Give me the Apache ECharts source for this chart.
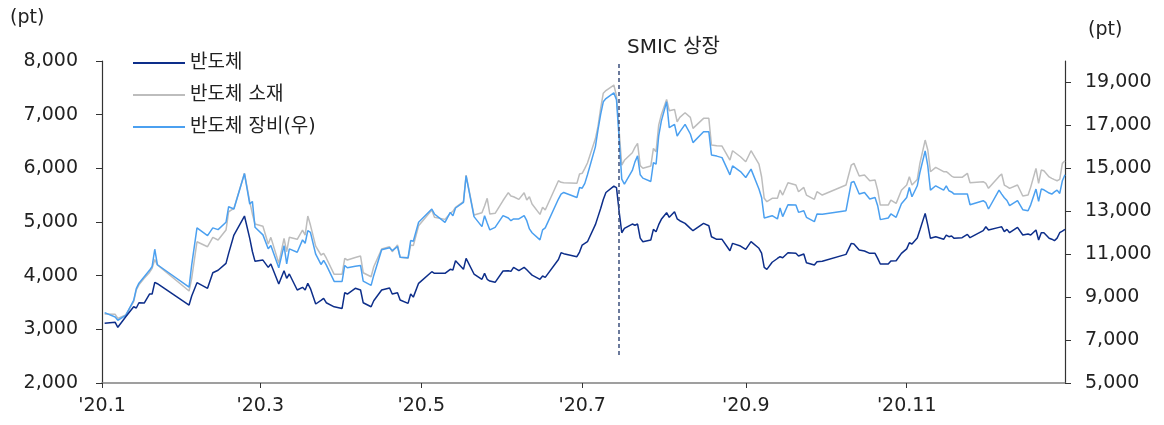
<!DOCTYPE html>
<html>
<head>
<meta charset="utf-8">
<script src="https://cdn.jsdelivr.net/npm/echarts@6/dist/echarts.min.js"></script>
<style>
  html, body { margin: 0; padding: 0; background: #fff; }
  #chart { width: 1164px; height: 425px; }
</style>
</head>
<body>
<div id="chart"></div>
<script>
// 거래일 (읽어낸 지점)
const dates = [
  '2020-01-02','2020-01-06','2020-01-07','2020-01-10','2020-01-13','2020-01-14','2020-01-15','2020-01-17','2020-01-19','2020-01-20',
  '2020-01-21','2020-01-22','2020-02-03','2020-02-04','2020-02-06','2020-02-10','2020-02-12','2020-02-14','2020-02-17','2020-02-18',
  '2020-02-20','2020-02-24','2020-02-26','2020-02-27','2020-02-28','2020-03-02','2020-03-04','2020-03-05','2020-03-08','2020-03-10',
  '2020-03-11','2020-03-12','2020-03-15','2020-03-17','2020-03-18','2020-03-19','2020-03-20','2020-03-22','2020-03-24','2020-03-25',
  '2020-03-26','2020-03-29','2020-04-01','2020-04-02','2020-04-03','2020-04-06','2020-04-08','2020-04-09','2020-04-12','2020-04-13',
  '2020-04-16','2020-04-19','2020-04-20','2020-04-22','2020-04-23','2020-04-26','2020-04-27','2020-04-28','2020-04-30','2020-05-05',
  '2020-05-06','2020-05-10','2020-05-12','2020-05-13','2020-05-14','2020-05-17','2020-05-18','2020-05-21','2020-05-24','2020-05-25',
  '2020-05-26','2020-05-27','2020-05-29','2020-06-01','2020-06-03','2020-06-04','2020-06-05','2020-06-07','2020-06-09','2020-06-10',
  '2020-06-11','2020-06-12','2020-06-15','2020-06-16','2020-06-17','2020-06-22','2020-06-23','2020-06-24','2020-06-29','2020-06-30',
  '2020-07-01','2020-07-02','2020-07-03','2020-07-06','2020-07-07','2020-07-08','2020-07-09','2020-07-10','2020-07-13','2020-07-14',
  '2020-07-15','2020-07-16','2020-07-17','2020-07-20','2020-07-21','2020-07-22','2020-07-23','2020-07-24','2020-07-27','2020-07-28',
  '2020-07-29','2020-07-30','2020-07-31','2020-08-02','2020-08-03','2020-08-05','2020-08-06','2020-08-07','2020-08-09','2020-08-11',
  '2020-08-12','2020-08-16','2020-08-18','2020-08-19','2020-08-21','2020-08-23','2020-08-26','2020-08-27','2020-08-30','2020-09-01',
  '2020-09-03','2020-09-06','2020-09-07','2020-09-08','2020-09-09','2020-09-11','2020-09-13','2020-09-14','2020-09-15','2020-09-17',
  '2020-09-20','2020-09-21','2020-09-23','2020-09-24','2020-09-27','2020-09-28','2020-09-30','2020-10-09','2020-10-11','2020-10-12',
  '2020-10-14','2020-10-16','2020-10-18','2020-10-20','2020-10-21','2020-10-22','2020-10-25','2020-10-26','2020-10-28','2020-10-30',
  '2020-11-01','2020-11-02','2020-11-03','2020-11-05','2020-11-06','2020-11-08','2020-11-09','2020-11-10','2020-11-12','2020-11-15',
  '2020-11-16','2020-11-17','2020-11-18','2020-11-19','2020-11-22','2020-11-24','2020-11-25','2020-11-30','2020-12-01','2020-12-02',
  '2020-12-06','2020-12-07','2020-12-08','2020-12-09','2020-12-10','2020-12-13','2020-12-15','2020-12-17','2020-12-18','2020-12-20',
  '2020-12-21','2020-12-22','2020-12-23','2020-12-25','2020-12-26','2020-12-27','2020-12-28','2020-12-29','2020-12-30','2020-12-31'
];

// 반도체 (좌)
const semi = [
  3112,3131,3038,3235,3421,3397,3496,3490,3658,3658,
  3876,3850,3453,3621,3869,3764,4055,4100,4230,4416,
  4757,5111,4696,4450,4267,4290,4155,4217,3844,4092,
  3950,4031,3733,3783,3733,3857,3760,3472,3540,3578,
  3496,3420,3390,3683,3658,3764,3733,3496,3421,3533,
  3733,3770,3658,3683,3546,3484,3658,3600,3857,4074,
  4043,4043,4118,4105,4278,4118,4323,4031,3932,4043,
  3932,3900,3876,4087,4092,4080,4155,4092,4155,4110,
  4060,4010,3932,3993,3969,4300,4428,4410,4353,4440,
  4571,4602,4633,4950,5100,5250,5420,5550,5670,5640,
  5200,4800,4880,4962,4940,4962,4700,4633,4664,4863,
  4819,4950,5050,5173,5087,5191,5060,5024,4975,4882,
  4838,4975,4931,4726,4677,4677,4465,4602,4552,4491,
  4633,4510,4420,4155,4118,4250,4320,4353,4335,4428,
  4416,4366,4403,4242,4198,4260,4270,4397,4602,4590,
  4478,4460,4416,4416,4323,4217,4217,4273,4279,4416,
  4500,4614,4590,4700,4850,5161,4943,4696,4726,4677,
  4757,4726,4739,4696,4708,4770,4708,4838,4912,4850,
  4900,4910,4820,4863,4800,4900,4757,4776,4757,4850,
  4664,4800,4800,4696,4680,4652,4700,4800,4830,4863
];

// 반도체 소재 (좌)
const material = [
  3285,3280,3205,3267,3515,3733,3830,3950,4060,4137,
  4300,4200,3714,3950,4632,4539,4714,4664,4850,5191,
  5254,5907,5378,5150,4962,4920,4590,4714,4230,4696,
  4446,4714,4677,4850,4757,5111,4943,4550,4385,4416,
  4330,4025,4025,4323,4292,4340,4366,4055,3980,4167,
  4496,4539,4446,4571,4342,4323,4571,4560,4930,5223,
  5087,5049,5161,5200,5273,5378,5875,5130,5173,5300,
  5441,5149,5161,5400,5546,5484,5470,5422,5546,5409,
  5471,5335,5142,5273,5223,5769,5740,5732,5720,5894,
  5907,6000,6100,6550,6780,7117,7400,7450,7552,7350,
  6700,6061,6150,6290,6390,6465,6050,6000,6043,6371,
  6310,6806,7000,7285,7073,7098,6868,6950,7036,6950,
  6745,6931,6931,6434,6420,6415,6155,6328,6216,6123,
  6328,6080,5843,5441,5378,5441,5441,5595,5502,5732,
  5689,5564,5645,5502,5422,5564,5502,5689,6061,6092,
  5856,5875,5769,5782,5595,5316,5316,5409,5347,5590,
  5689,5843,5689,5794,6092,6527,6341,5937,6018,5937,
  5937,5900,5856,5832,5832,5907,5732,5751,5720,5627,
  5850,5894,5689,5660,5627,5689,5484,5502,5650,6000,
  5720,5968,5955,5840,5813,5790,5769,5794,6092,6142
];

// 반도체 장비 (우)
const equip = [
  8280,8076,7923,8155,8851,9394,9650,9950,10250,10429,
  11231,10508,9468,10500,12225,11867,12225,12146,12485,13213,
  13106,14758,13338,13459,12252,11900,11250,11403,10368,11403,
  10554,11250,11092,11668,11510,12099,12020,11000,10522,10707,
  10500,9733,9733,10475,10368,10440,10475,9747,9547,10011,
  11204,11296,11171,11357,10860,10832,11635,11600,12485,13106,
  12874,12485,12949,12795,13152,13412,14651,12749,12285,12795,
  12450,12132,12252,12795,12688,12560,12642,12642,12795,12563,
  12178,12000,11668,12132,12225,13570,13800,13876,13644,14108,
  14075,14300,14700,16000,16800,17513,18100,18250,18516,18200,
  16400,14500,14266,14900,15300,15579,14700,14544,14387,15269,
  15191,16507,17200,18100,16893,17050,16507,16700,17050,16600,
  16197,16707,16707,15625,15570,15500,14698,15115,14851,14573,
  14962,14035,13644,12688,12720,12795,12642,13152,12749,13306,
  13290,12949,13027,12718,12517,12874,12860,13027,14340,14387,
  13802,13876,13570,13644,13259,12610,12688,12874,12718,13350,
  13644,14108,13677,14187,14805,15811,15115,13986,14187,13986,
  14187,13955,13900,13802,13802,13802,13306,13491,13400,13106,
  13986,13800,13630,13500,13259,13491,13074,13027,13300,14035,
  13459,14035,14000,13850,13802,13900,13986,13830,14419,14698
];

const seriesNames = ['반도체', '반도체 소재', '반도체 장비(우)'];
const xTickDates = ['2020-01-01', '2020-03-01', '2020-05-01', '2020-07-01', '2020-09-01', '2020-11-01'];
const xTickLabels = ["'20.1", "'20.3", "'20.5", "'20.7", "'20.9", "'20.11"];
const leftTicks = [2000, 3000, 4000, 5000, 6000, 7000, 8000];
const rightTicks = [5000, 7000, 9000, 11000, 13000, 15000, 17000, 19000];
const smicDate = '2020-07-15';

// 날짜 -> 일 단위 숫자 (UTC 기준)
const dayNum = s => Date.UTC(+s.slice(0, 4), +s.slice(5, 7) - 1, +s.slice(8, 10)) / 86400000;
const xTickDays = xTickDates.map(dayNum);
const numFont = "'DejaVu Sans', 'Noto Sans CJK KR', sans-serif";
const txtColor = '#222';

const chart = echarts.init(document.getElementById('chart'));

const toPairs = arr => dates.map((d, i) => [dayNum(d), arr[i]]);

const option = {
  backgroundColor: '#fff',
  animation: false,
  grid: { left: 102, right: 99, top: 61, bottom: 42 },
  legend: {
    data: seriesNames,
    orient: 'vertical',
    left: 128,
    top: 48,
    icon: 'rect',
    itemWidth: 52,
    itemHeight: 2,
    itemGap: 12,
    textStyle: { fontSize: 19, color: txtColor, fontFamily: numFont, lineHeight: 20, height: 20 }
  },
  xAxis: {
    type: 'value',
    min: dayNum('2020-01-01'),
    max: dayNum('2020-12-31'),
    axisLine: { lineStyle: { color: '#808080', width: 1.5 } },
    axisTick: { customValues: xTickDays, length: 5, lineStyle: { color: '#333' } },
    axisLabel: {
      customValues: xTickDays,
      formatter: v => {
        const i = xTickDays.indexOf(v);
        return i >= 0 ? xTickLabels[i] : '';
      },
      fontSize: 19, color: txtColor, fontFamily: numFont, margin: 14
    },
    splitLine: { show: false }
  },
  yAxis: [
    {
      type: 'value',
      min: 2000, max: 8000, interval: 1000,
      axisLine: { show: true, lineStyle: { color: '#333', width: 1.2 } },
      axisTick: { show: true, customValues: leftTicks, length: 6, lineStyle: { color: '#333' } },
      axisLabel: {
        customValues: leftTicks,
        fontSize: 19, color: txtColor, fontFamily: numFont, margin: 24
      },
      splitLine: { show: false }
    },
    {
      type: 'value',
      min: 5000, max: 20000,
      axisLine: { show: true, lineStyle: { color: '#333', width: 1.2 } },
      axisTick: { show: true, customValues: rightTicks, length: 6, lineStyle: { color: '#333' } },
      axisLabel: {
        customValues: rightTicks,
        fontSize: 19, color: txtColor, fontFamily: numFont, margin: 20
      },
      splitLine: { show: false }
    }
  ],
  series: [
    {
      name: seriesNames[1],
      type: 'line',
      yAxisIndex: 0,
      symbol: 'none',
      data: toPairs(material),
      lineStyle: { color: '#BDBDBD', width: 1.5 },
      itemStyle: { color: '#BDBDBD' }
    },
    {
      name: seriesNames[2],
      type: 'line',
      yAxisIndex: 1,
      symbol: 'none',
      data: toPairs(equip),
      lineStyle: { color: '#4BA0F0', width: 1.5 },
      itemStyle: { color: '#4BA0F0' }
    },
    {
      name: seriesNames[0],
      type: 'line',
      yAxisIndex: 0,
      symbol: 'none',
      data: toPairs(semi),
      lineStyle: { color: '#0D2E8A', width: 1.5 },
      itemStyle: { color: '#0D2E8A' },
      markLine: {
        silent: true,
        symbol: 'none',
        label: { show: false },
        lineStyle: { color: '#3B4F7C', type: [4, 3], width: 1.5 },
        data: [[
          { coord: [dayNum(smicDate), 2520] },
          { coord: [dayNum(smicDate), 8000] }
        ]]
      }
    }
  ],
  graphic: [
    { type: 'text', left: 10, top: 9, style: { text: '(pt)', fontSize: 19, fill: txtColor, fontFamily: numFont } },
    { type: 'text', left: 1088, top: 21, style: { text: '(pt)', fontSize: 19, fill: txtColor, fontFamily: numFont } },
    { type: 'text', left: 627, top: 38, style: { text: 'SMIC 상장', fontSize: 20, fill: txtColor, fontFamily: numFont } }
  ]
};

chart.setOption(option);
</script>
</body>
</html>
